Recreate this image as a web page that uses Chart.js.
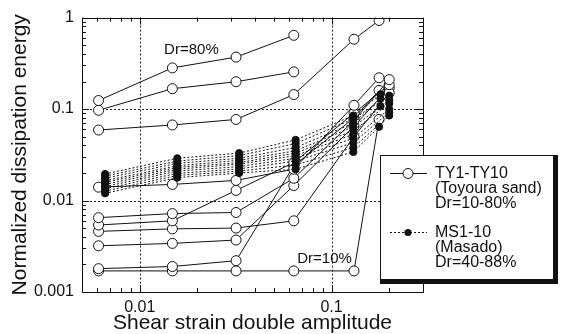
<!DOCTYPE html>
<html>
<head>
<meta charset="utf-8">
<script src="https://cdn.jsdelivr.net/npm/chart.js@4.4.1/dist/chart.umd.min.js"></script>
<style>
  html, body { margin: 0; padding: 0; background: #fff; }
</style>
</head>
<body>
<canvas id="dissipationChart" width="561" height="334"></canvas>
<script>
// Toyoura sand (TY1-TY10): strain columns, last point strain per series, energies
const tyStrain = [0.0061, 0.0148, 0.0318, 0.0636, 0.131];
const tyFinalStrain = [null, null, 0.177, 0.177, 0.2, 0.2, 0.2, 0.2, 0.177, 0.177];
const tyEnergy = [
    [0.124, 0.282, 0.370, 0.64],
    [0.097, 0.167, 0.199, 0.255],
    [0.059, 0.067, 0.077, 0.144, 0.58, 0.93],
    [0.014, 0.015, 0.0166, 0.022, 0.11, 0.22],
    [0.0065, 0.0072, 0.0074, 0.0175, 0.075, 0.21],
    [0.0054, 0.0060, 0.0129, 0.026, 0.09, 0.185],
    [0.0046, 0.0049, 0.0050, 0.0060, 0.05, 0.15],
    [0.0032, 0.0034, 0.0037, 0.0146, 0.065, 0.17],
    [0.0018, 0.0019, 0.0022, 0.024, 0.08, 0.16],
    [0.0017, 0.0017, 0.0017, 0.0017, 0.0017, 0.077]
];

// Masado (MS1-10)
const msStrain = [0.0066, 0.0157, 0.033, 0.065, 0.13];
const msFinalStrain = [0.18, 0.2, 0.18, 0.2, 0.2, 0.18, 0.2, 0.2, 0.2, 0.177];
const msEnergy = [
    [0.0195, 0.029, 0.033, 0.046, 0.085, 0.145],
    [0.0185, 0.027, 0.031, 0.042, 0.078, 0.14],
    [0.0175, 0.0255, 0.029, 0.038, 0.070, 0.13],
    [0.0165, 0.024, 0.0275, 0.035, 0.064, 0.125],
    [0.0158, 0.023, 0.026, 0.033, 0.058, 0.115],
    [0.0150, 0.022, 0.025, 0.031, 0.053, 0.108],
    [0.0142, 0.021, 0.0235, 0.029, 0.048, 0.10],
    [0.0135, 0.0198, 0.0222, 0.027, 0.043, 0.092],
    [0.0127, 0.0188, 0.021, 0.0245, 0.038, 0.085],
    [0.0120, 0.0178, 0.020, 0.022, 0.034, 0.064]
];

const xLabels = [0.01, 0.1];
const yLabels = [1, 0.1, 0.01, 0.001];
const legendText = [['TY1-TY10', '(Toyoura sand)', 'Dr=10-80%'], ['MS1-10', '(Masado)', 'Dr=40-88%']];

const FONT = '"Liberation Sans", Arial, Helvetica, sans-serif';
const INK = '#111';

function toPoints(vals, strain, last) {
    return vals.map((v, j) => ({ x: j < strain.length ? strain[j] : last, y: v }));
}

const datasets = [];
msEnergy.forEach((vals, i) => {
    datasets.push({
        label: 'MS' + (i + 1),
        data: toPoints(vals, msStrain, msFinalStrain[i]),
        showLine: true,
        borderColor: INK,
        borderWidth: 1,
        borderDash: [2, 2],
        pointRadius: 3.6,
        pointBackgroundColor: INK,
        pointBorderColor: INK,
        pointBorderWidth: 1
    });
});
tyEnergy.forEach((vals, i) => {
    datasets.push({
        label: 'TY' + (i + 1),
        data: toPoints(vals, tyStrain, tyFinalStrain[i]),
        showLine: true,
        borderColor: INK,
        borderWidth: 1,
        pointRadius: 5,
        pointBackgroundColor: '#fff',
        pointBorderColor: INK,
        pointBorderWidth: 1
    });
});

function isDecade(v) {
    const l = Math.log10(v);
    return Math.abs(l - Math.round(l)) < 1e-6;
}

// gridlines, frame with inward ticks, notes and boxed legend
const decorations = {
    id: 'decorations',
    beforeDatasetsDraw(chart) {
        const { ctx, chartArea: a, scales: { x, y } } = chart;
        ctx.save();
        ctx.strokeStyle = '#222';
        ctx.lineWidth = 1;
        ctx.setLineDash([2, 2]);
        xLabels.forEach(v => {
            const px = Math.round(x.getPixelForValue(v)) + 0.5;
            ctx.beginPath(); ctx.moveTo(px, a.top); ctx.lineTo(px, a.bottom); ctx.stroke();
        });
        yLabels.forEach(v => {
            const py = Math.round(y.getPixelForValue(v)) + 0.5;
            ctx.beginPath(); ctx.moveTo(a.left, py); ctx.lineTo(a.right, py); ctx.stroke();
        });
        ctx.restore();
    },
    afterDraw(chart) {
        const { ctx, chartArea: a, scales: { x, y } } = chart;
        ctx.save();
        ctx.strokeStyle = INK;
        ctx.lineWidth = 1;
        ctx.strokeRect(Math.round(a.left) + 0.5, Math.round(a.top) + 0.5,
            Math.round(a.right - a.left), Math.round(a.bottom - a.top));

        // minor / major ticks pointing inward
        for (let d = -3; d <= 0; d++) {
            for (let k = 1; k <= 9; k++) {
                const v = k * Math.pow(10, d);
                const len = k === 1 ? 7 : 4;
                if (v >= x.min * 0.999 && v <= x.max * 1.001) {
                    const px = Math.round(x.getPixelForValue(v)) + 0.5;
                    ctx.beginPath();
                    ctx.moveTo(px, a.bottom); ctx.lineTo(px, a.bottom - len);
                    ctx.moveTo(px, a.top); ctx.lineTo(px, a.top + len);
                    ctx.stroke();
                }
                if (v >= y.min * 0.999 && v <= y.max * 1.001) {
                    const py = Math.round(y.getPixelForValue(v)) + 0.5;
                    ctx.beginPath();
                    ctx.moveTo(a.left, py); ctx.lineTo(a.left + len, py);
                    ctx.moveTo(a.right, py); ctx.lineTo(a.right - len, py);
                    ctx.stroke();
                }
            }
        }

        // density notes
        ctx.fillStyle = INK;
        ctx.font = '15px ' + FONT;
        ctx.textAlign = 'center';
        ctx.textBaseline = 'middle';
        ctx.fillText('Dr=80%', x.getPixelForValue(0.0186), y.getPixelForValue(0.44));
        ctx.fillText('Dr=10%', x.getPixelForValue(0.092), y.getPixelForValue(0.00233));

        // legend box with drop shadow
        const bx = 380, by = 155;
        ctx.fillStyle = INK;
        ctx.fillRect(bx, by, 178, 129);
        ctx.fillStyle = '#fff';
        ctx.fillRect(bx + 1, by + 1, 172, 123);

        ctx.strokeStyle = INK;
        ctx.lineWidth = 1;
        // TY sample
        ctx.beginPath(); ctx.moveTo(390, 173.5); ctx.lineTo(427, 173.5); ctx.stroke();
        ctx.fillStyle = '#fff';
        ctx.beginPath(); ctx.arc(408, 173.5, 5, 0, Math.PI * 2); ctx.fill(); ctx.stroke();
        // MS sample
        ctx.setLineDash([2, 2]);
        ctx.beginPath(); ctx.moveTo(390, 232.5); ctx.lineTo(427, 232.5); ctx.stroke();
        ctx.setLineDash([]);
        ctx.fillStyle = INK;
        ctx.beginPath(); ctx.arc(408, 232.5, 3.6, 0, Math.PI * 2); ctx.fill();

        ctx.font = '16px ' + FONT;
        ctx.textAlign = 'left';
        legendText[0].forEach((t, i) => ctx.fillText(t, 435, 174 + i * 15));
        legendText[1].forEach((t, i) => ctx.fillText(t, 435, 233 + i * 15));
        ctx.restore();
    }
};

const ctx = document.getElementById('dissipationChart').getContext('2d');
new Chart(ctx, {
    type: 'scatter',
    data: { datasets: datasets },
    options: {
        responsive: false,
        animation: false,
        layout: { padding: { top: 14, right: 138, left: 0, bottom: 0 } },
        plugins: {
            legend: { display: false },
            tooltip: { enabled: false }
        },
        scales: {
            x: {
                type: 'logarithmic',
                min: 0.005,
                max: 0.3,
                afterFit: s => { s.height = 42; },
                grid: { display: false, drawTicks: false },
                border: { display: false },
                ticks: {
                    autoSkip: false,
                    maxRotation: 0,
                    padding: 6,
                    color: INK,
                    font: { size: 16, family: FONT },
                    callback: v => (xLabels.some(t => Math.abs(t - v) < t * 1e-6) ? String(v) : '')
                },
                title: {
                    display: true,
                    text: 'Shear strain double amplitude',
                    color: INK,
                    font: { size: 21, family: FONT, lineHeight: 1 },
                    padding: { top: 0, bottom: 0 }
                }
            },
            y: {
                type: 'logarithmic',
                min: 0.001,
                max: 1,
                afterFit: s => { s.width = 82; },
                grid: { display: false, drawTicks: false },
                border: { display: false },
                ticks: {
                    autoSkip: false,
                    padding: 8,
                    color: INK,
                    font: { size: 16, family: FONT },
                    callback: v => (isDecade(v) ? String(v) : '')
                },
                title: {
                    display: true,
                    text: 'Normalized dissipation energy',
                    color: INK,
                    font: { size: 21, family: FONT, lineHeight: 1 },
                    padding: { top: 10, bottom: 0 }
                }
            }
        }
    },
    plugins: [decorations]
});
</script>
</body>
</html>
